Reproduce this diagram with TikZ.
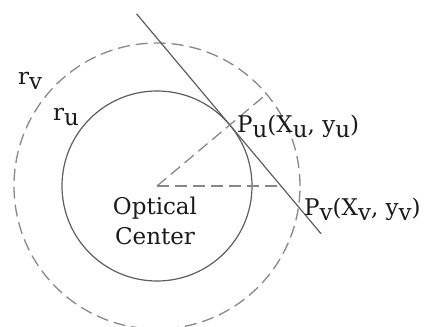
\documentclass[tikz,border=0pt]{standalone}
\usepackage{fontspec}
\setmainfont{DejaVu Serif}
\usepackage{tikz}
\usetikzlibrary{calc}
\definecolor{lineGray}{HTML}{5E5E5E}
\definecolor{dashGray}{HTML}{888888}
\definecolor{textDark}{HTML}{1A1A1A}
\newcommand{\lowsub}[1]{\raisebox{-0.2em}{#1}}

\begin{document}
\begin{tikzpicture}[x=1pt,y=1pt,
    guide/.style={dashGray,line width=1.3pt,dash pattern=on 12pt off 6pt},
    solidline/.style={lineGray,line width=1.2pt},
    lbl/.style={textDark,inner sep=0pt,font=\fontsize{23}{30}\selectfont}]
    \useasboundingbox (-157,-141) rectangle (267,186);
    \coordinate (O) at (0,0);
    \draw[solidline] (O) circle (95);
    \draw[guide] (O) circle (143);
    \coordinate (Pu) at (40:95);
    \coordinate (Pv) at ($(Pu)+(-50:106.9)$);
    \coordinate (T1) at ($(Pu)+(130:145)$);
    \coordinate (T2) at ($(Pu)+(-50:142)$);
    \draw[solidline] (T1)--(T2);
    \draw[guide] (O)--(40:143);
    \coordinate (H) at (intersection of Pu--Pv and O--1,0);
    \draw[guide] (O)--(H);
    \node[lbl,anchor=base west] (rv) at (-139,101) {r\lowsub{v}};
    \node[lbl,anchor=base west] (ru) at (-104,65) {r\lowsub{u}};
    \node[lbl,anchor=base west] (pu) at (80,53) {P\lowsub{u}(X\lowsub{u}, y\lowsub{u})};
    \node[lbl,anchor=base west] (pv) at (147,-30) {P\lowsub{v}(X\lowsub{v}, y\lowsub{v})};
    \node[lbl,anchor=north,align=center] (oc) at (-2,-11) {Optical\\Center};
  \end{tikzpicture}
\end{document}
